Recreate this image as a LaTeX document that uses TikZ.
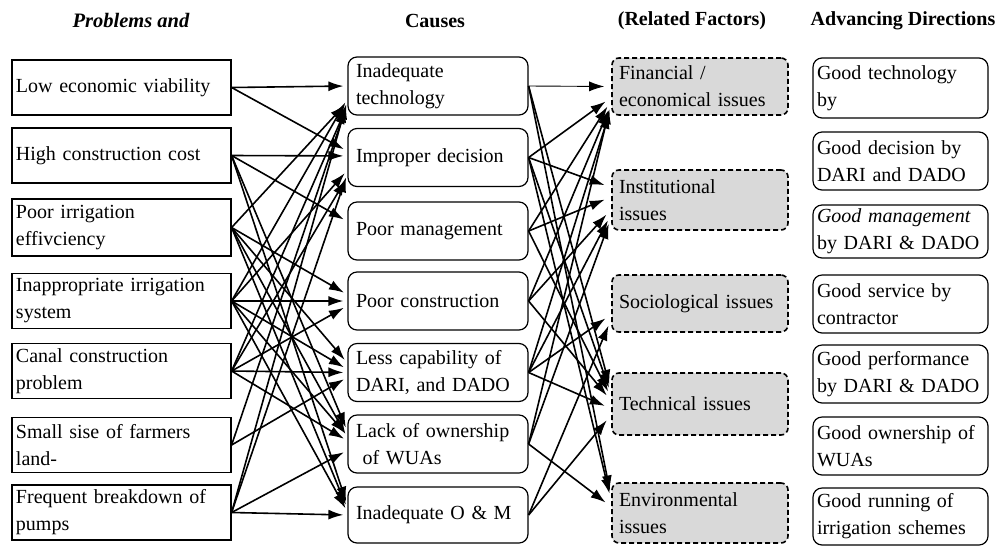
\documentclass[tikz,border=0pt]{standalone}
\usepackage{fontspec}
\setmainfont{Liberation Serif}
\usetikzlibrary{arrows.meta,calc}
\begin{document}
\begin{tikzpicture}[x=1pt,y=-1pt,
  txt/.style={font=\fontsize{20}{27}\selectfont},
  hdr/.style={font=\fontsize{20}{24}\selectfont\bfseries},
  prob/.style={draw, line width=1.2pt, text width=211pt, inner xsep=4pt, inner ysep=0pt, align=left, minimum height=55pt, txt},
  cause/.style={draw, line width=1.2pt, rounded corners=9pt, text width=164pt, inner xsep=8pt, inner ysep=0pt, align=left, minimum height=58pt, txt},
  rel/.style={draw, line width=1.6pt, dash pattern=on 5pt off 3pt, fill=gray!30, rounded corners=7pt, text width=162pt, inner xsep=7pt, inner ysep=0pt, align=left, minimum height=58pt, txt},
  dir/.style={draw, line width=1.2pt, rounded corners=9pt, text width=167pt, inner xsep=4pt, inner ysep=0pt, align=left, minimum height=57pt, txt},
  arr/.style={-{Latex[length=15pt,width=10pt]}, line width=1.6pt, shorten >=4pt},
  arrR/.style={arr, shorten >=7pt},
]
\useasboundingbox (0,0) rectangle (1003,550);

% headers
\node[hdr, font=\fontsize{20.5}{24}\selectfont\bfseries\itshape] (h1) at (131,20) {Problems and};
\node[hdr] (h2) at (435,21) {Causes};
\node[hdr] (h3) at (692,21) {(Related Factors)};
\node[hdr] (h4) at (903,21) {Advancing Directions};

% problems
\node[prob] (p1) at (121.5,87.5) {Low economic viability};
\node[prob] (p2) at (121.5,155.5) {High construction cost};
\node[prob, minimum height=57pt] (p3) at (121.5,227.5) {Poor irrigation\\effivciency};
\node[prob] (p4) at (121.5,301) {Inappropriate irrigation\\system};
\node[prob] (p5) at (121.5,371) {Canal construction\\problem};
\node[prob] (p6) at (121.5,445) {Small sise of farmers\\land-};
\node[prob] (p7) at (121.5,512.5) {Frequent breakdown of\\pumps};

% causes
\node[cause] (c1) at (438,86) {Inadequate\\technology};
\node[cause] (c2) at (438,157.5) {Improper decision};
\node[cause] (c3) at (438,231) {Poor management};
\node[cause] (c4) at (438,301) {Poor construction};
\node[cause] (c5) at (438,372.5) {Less capability of\\DARI, and DADO};
\node[cause] (c6) at (438,444) {Lack of ownership\\\ of WUAs};
\node[cause, minimum height=56pt] (c7) at (438,515) {Inadequate O \& M};

% related factors
\node[rel, minimum height=57pt] (f) at (700,86.5) {Financial /\\economical issues};
\node[rel, minimum height=60pt] (i) at (700,200) {Institutional\\issues};
\node[rel, minimum height=57pt] (s) at (700,303.5) {Sociological issues};
\node[rel, minimum height=62pt] (t) at (700,404) {Technical issues};
\node[rel, minimum height=60pt] (e) at (700,513) {Environmental\\issues};

% advancing directions
\node[dir, minimum height=60pt] (d1) at (900.5,88) {Good technology\\by};
\node[dir, minimum height=58pt] (d2) at (900.5,161) {Good decision by\\DARI and DADO};
\node[dir, minimum height=53pt] (d3) at (900.5,231.5) {\textit{Good management}\\\mbox{by DARI \& DADO}};
\node[dir, minimum height=58pt] (d4) at (900.5,304) {Good service by\\contractor};
\node[dir, minimum height=58pt] (d5) at (900.5,374) {Good performance\\\mbox{by DARI \& DADO}};
\node[dir, minimum height=58pt] (d6) at (900.5,446) {Good ownership of\\WUAs};
\node[dir, minimum height=57pt] (d7) at (900.5,516.5) {Good running of\\irrigation schemes};

% problems -> causes
\foreach \s/\t in {
  p1.east/c1.west, p1.east/c2.176,
  p2.east/c2.179, p2.east/c3.174, p2.east/c6.172, p2.east/c7.174,
  p3.east/c1.190, p3.east/c4.176, p3.east/c5.174, p3.east/c6.176, p3.east/c7.176,
  p4.east/c4.west, p4.east/c1.188, p4.east/c2.188, p4.east/c5.178, p4.east/c6.175, p4.east/c7.178,
  p5.east/c5.west, p5.east/c1.192, p5.east/c2.192, p5.east/c4.183, p5.east/c6.178,
  p6.east/c5.183, p6.east/c1.191,
  p7.east/c7.west, p7.east/c6.184, p7.east/c1.189, p7.east/c2.190}
  \draw[arr] (\s) -- (\t);

% causes -> related factors
\draw[arrR, line width=0.9pt] (c1.east) -- (f.west);
\foreach \s/\t in {
  c1.east/t.172, c1.east/e.170,
  c2.east/f.187, c2.east/i.172, c2.east/t.174, c2.east/e.172,
  c3.east/i.178, c3.east/f.189, c3.east/t.176,
  c4.east/f.191, c4.east/i.186, c4.east/t.178,
  c5.east/f.193, c5.east/i.189, c5.east/s.187, c5.east/t.183,
  c6.east/f.190, c6.east/i.191, c6.east/e.176,
  c7.east/t.187, c7.east/s.190}
  \draw[arrR] (\s) -- (\t);
\end{tikzpicture}
\end{document}
